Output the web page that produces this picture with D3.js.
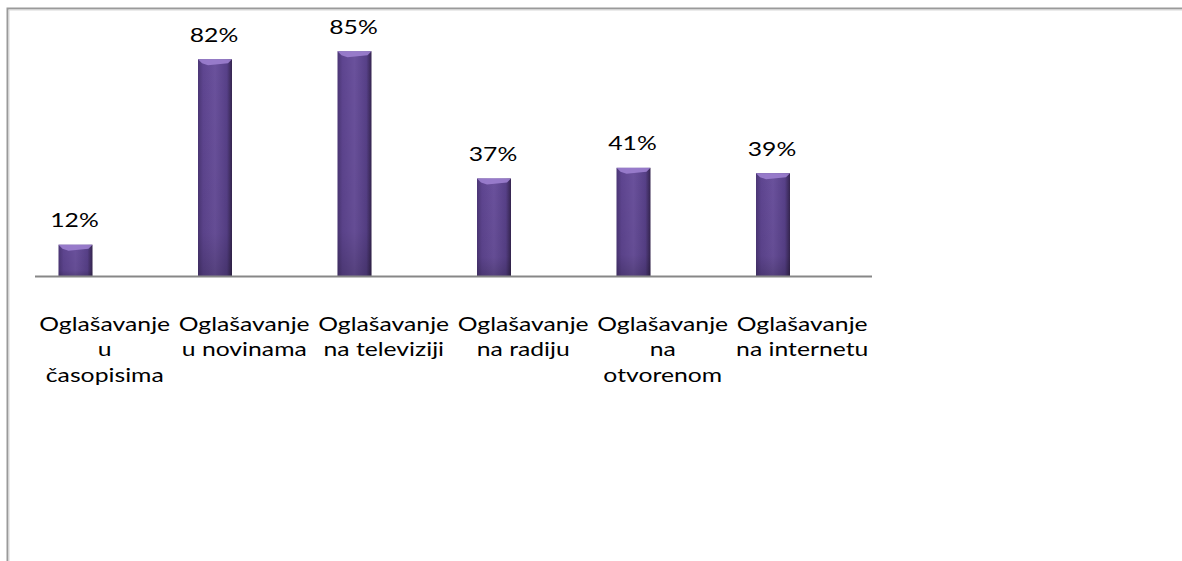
<html>
<head>
    <script src="https://d3js.org/d3.v7.min.js"></script>
    <style>
        body { margin: 0; background: #fff; }
        text { font-family: Lato, "Liberation Sans", sans-serif; fill: #000; }
    </style>
</head>
<body>
    <svg id="chart"></svg>

    <script>
        // chart values
        var categories = ["casopisi", "novine", "televizija", "radio", "otvoreno", "internet"];
        var tickLabels = [
            ["Oglašavanje", "u", "časopisima"],
            ["Oglašavanje", "u novinama"],
            ["Oglašavanje", "na televiziji"],
            ["Oglašavanje", "na radiju"],
            ["Oglašavanje", "na", "otvorenom"],
            ["Oglašavanje", "na internetu"]
        ];
        var values = [12, 82, 85, 37, 41, 39];

        var W = 1182, H = 561;
        var FONT = 18.6, STRETCH = 1.33;   // the picture is wider than tall
        var svg = d3.select("#chart").attr("width", W).attr("height", H);

        var defs = svg.append("defs");
        var grad = defs.append("linearGradient").attr("id", "barGrad")
            .attr("x1", "0%").attr("x2", "100%").attr("y1", "0%").attr("y2", "0%");
        grad.append("stop").attr("offset", "0%").attr("stop-color", "#4b3675");
        grad.append("stop").attr("offset", "15%").attr("stop-color", "#5e4590");
        grad.append("stop").attr("offset", "50%").attr("stop-color", "#6a519c");
        grad.append("stop").attr("offset", "85%").attr("stop-color", "#574088");
        grad.append("stop").attr("offset", "100%").attr("stop-color", "#35254f");

        var vgrad = defs.append("linearGradient").attr("id", "shade")
            .attr("x1", "0%").attr("x2", "0%").attr("y1", "0%").attr("y2", "100%");
        vgrad.append("stop").attr("offset", "0%").attr("stop-color", "#000").attr("stop-opacity", 0);
        vgrad.append("stop").attr("offset", "80%").attr("stop-color", "#000").attr("stop-opacity", 0.05);
        vgrad.append("stop").attr("offset", "100%").attr("stop-color", "#000").attr("stop-opacity", 0.2);

        // outer chart border (cut by the page edge)
        svg.append("rect")
            .attr("x", 7.5).attr("y", 8.5)
            .attr("width", W + 20).attr("height", H + 20)
            .attr("fill", "none").attr("stroke", "#9a9a9a").attr("stroke-width", 2);
        svg.append("rect")
            .attr("x", 9).attr("y", 10)
            .attr("width", W + 20).attr("height", H + 20)
            .attr("fill", "none").attr("stroke", "#d8d8d8").attr("stroke-width", 1);

        // axis categories; bars sit a bit left of them, as in the original
        var xAxis = d3.scaleBand().domain(categories).range([35, 872]);
        var x = d3.scaleBand().domain(categories).range([5.75, 842.75]);
        var y = d3.scaleLinear().domain([0, 100]).range([276.5, 11.5]);
        var barW = 34;

        function barLeft(i){ return x(categories[i]) + x.bandwidth()/2 - barW/2; }

        var bars = svg.selectAll(".bar").data(values).enter().append("g").attr("class", "bar");

        bars.append("rect")
            .attr("x", function(d, i){ return barLeft(i); })
            .attr("y", function(d){ return y(d); })
            .attr("width", barW)
            .attr("height", function(d){ return y(0) - y(d); })
            .attr("fill", "url(#barGrad)");

        bars.append("rect")
            .attr("x", function(d, i){ return barLeft(i); })
            .attr("y", function(d){ return y(d); })
            .attr("width", barW)
            .attr("height", function(d){ return y(0) - y(d); })
            .attr("fill", "url(#shade)");

        // light bevel at the top of each bar
        bars.append("path")
            .attr("d", function(d, i){
                var x0 = barLeft(i), x1 = x0 + barW, t = y(d);
                return "M" + x0 + "," + t + "L" + x1 + "," + t +
                    "L" + (x1 - 4) + "," + (t + 4) + "L" + (x0 + 10) + "," + (t + 6) +
                    "L" + (x0 + 4) + "," + (t + 4) + "Z";
            })
            .attr("fill", "#9c80cf").attr("opacity", 0.9);

        // value labels
        svg.selectAll(".val").data(values).enter().append("text")
            .attr("class", "val")
            .attr("transform", function(d, i){
                return "translate(" + (x(categories[i]) + x.bandwidth()/2 - 1) + "," + (y(d) - 17.5) + ") scale(" + STRETCH + ",1)";
            })
            .attr("text-anchor", "middle")
            .attr("font-size", FONT)
            .text(function(d){ return d + "%"; });

        // baseline
        svg.append("line")
            .attr("x1", 35).attr("x2", 872)
            .attr("y1", y(0)).attr("y2", y(0))
            .attr("stroke", "#878787").attr("stroke-width", 2);

        // category labels
        var ticks = svg.selectAll(".tick").data(tickLabels).enter().append("text")
            .attr("class", "tick")
            .attr("text-anchor", "middle")
            .attr("font-size", FONT)
            .attr("transform", function(d, i){
                return "translate(" + (xAxis(categories[i]) + xAxis.bandwidth()/2) + ",331) scale(" + STRETCH + ",1)";
            });
        ticks.selectAll("tspan").data(function(d){ return d; }).enter().append("tspan")
            .attr("x", 0)
            .attr("y", function(d, j){ return j * 25.5; })
            .text(function(d){ return d; });
    </script>
</body>
</html>
